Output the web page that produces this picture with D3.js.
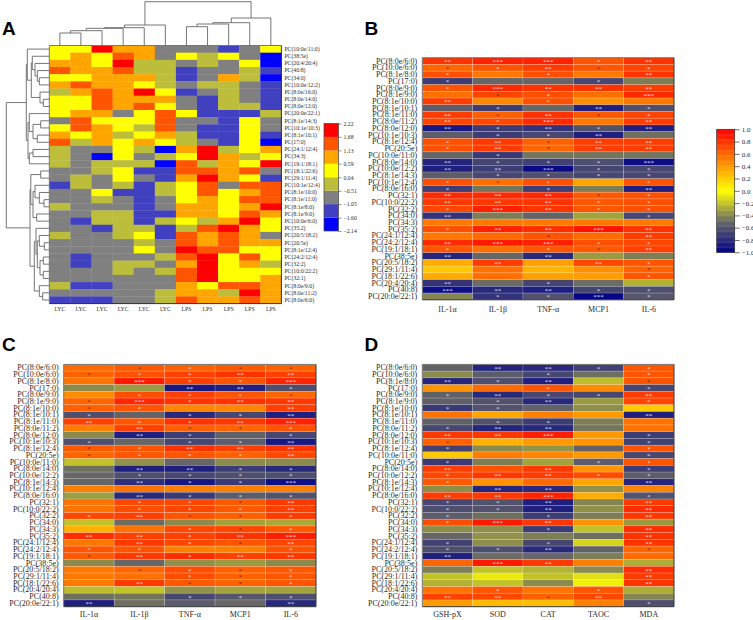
<!DOCTYPE html>
<html><head><meta charset="utf-8">
<script src="https://cdn.jsdelivr.net/npm/d3@7/dist/d3.min.js"></script>
<style>html,body{margin:0;padding:0;background:#fff}svg{display:block}</style>
</head><body><svg id="c" width="753" height="620"></svg>
<script>
const aRows=["PC(10:0e/11:0)","PC(38:5e)","PC(20:4/20:4)","PC(40:8)","PC(34:0)","PC(10:0e/12:2)","PC(8:0e/16:0)","PC(8:0e/14:0)","PC(8:0e/12:0)","PC(20:0e/22:1)","PC(8:1e/14:3)","PC(10:1e/10:3)","PC(8:1e/10:1)","PC(17:0)","PC(24:1/12:4)","PC(34:3)","PC(19:1/18:1)","PC(18:1/22:6)","PC(29:1/11:4)","PC(10:1e/12:4)","PC(8:1e/10:0)","PC(8:1e/11:0)","PC(8:1e/8:0)","PC(8:1e/9:0)","PC(10:0e/6:0)","PC(35:2)","PC(20:5/18:2)","PC(20:5e)","PC(8:1e/12:4)","PC(24:2/12:4)","PC(32:2)","PC(10:0/22:2)","PC(32:1)","PC(8:0e/9:0)","PC(8:0e/11:2)","PC(8:0e/6:0)"];
const aCols=["LYC","LYC","LYC","LYC","LYC","LYC","LPS","LPS","LPS","LPS","LPS"];
const aValues=[
[.31,.31,1.95,.86,.86,-.78,-.78,-.78,-1.33,-.78,.31],
[.31,.86,.31,1.4,.86,-.78,.31,-.24,.31,-.78,-1.87],
[.86,.86,.31,1.95,-.24,-.24,-.78,-.24,-.78,.31,-1.87],
[1.4,.86,.86,1.4,-.24,-.24,-1.33,-.78,-.78,-.24,-1.33],
[.31,.31,.86,.86,.86,-.24,-1.33,-.78,.86,-.24,-1.87],
[.86,1.4,.86,.86,.31,-.24,-.78,-.24,-.24,-.78,-1.33],
[-.24,.86,1.4,.86,1.95,.31,-1.33,-.78,-.24,-.78,-1.33],
[.31,.31,1.4,.86,.86,.86,-.78,-1.33,-.24,-.78,-1.33],
[.31,.31,1.4,.86,1.4,.31,-.78,-1.33,-.24,-.24,-1.33],
[.31,.86,.86,-.78,.31,1.4,.31,-1.33,-1.33,-1.33,-.24],
[-.78,1.4,.31,.31,.31,1.4,-.78,-.78,-1.33,.31,-.78],
[.31,1.4,.86,.31,-.24,1.4,-.78,-1.33,-1.33,.31,-.78],
[.86,.31,.86,-.24,.31,.86,-.24,-1.33,-1.33,.31,-1.33],
[1.4,-.24,.86,.31,.86,.31,-.24,-.78,-1.33,.31,-1.87],
[-.24,-.78,-.78,.31,-.24,-1.87,.86,1.95,-.24,.31,.86],
[-.24,-.78,-1.87,.31,-.78,-.24,.31,1.95,.86,-.24,.31],
[-.24,-.78,-.24,-.24,-.24,-1.87,1.4,-.24,.86,.31,1.95],
[-.78,-.78,-.24,.31,-1.33,-1.33,1.4,1.4,.86,1.4,-.78],
[-.78,-.24,-.78,.31,-.78,-1.33,.86,1.95,.86,.31,-1.33],
[-1.33,-.24,-.78,-.24,-1.33,-.24,.31,1.4,-.78,1.4,1.4],
[-.78,-.78,.31,-1.33,-1.33,-.24,.31,1.4,.31,.86,1.4],
[-.78,-.78,-.24,-.78,-1.33,-.78,.31,.86,.31,1.4,1.4],
[-.24,-.78,-.78,-.78,-1.33,-.78,.86,.86,.31,.86,1.95],
[-.78,-.78,-.24,-.24,-1.33,-1.33,.86,.86,.31,1.4,.86],
[-.78,-1.33,-.24,-.24,-1.33,-.24,.31,-.24,.86,1.95,.31],
[-.78,-.78,-1.33,-.24,-.24,-1.33,-.24,1.4,1.95,.86,.31],
[-.24,-.78,-.78,-.24,.31,-1.33,1.4,.86,1.4,.86,-.78],
[-.78,-.78,-.78,-.78,-.24,-.78,1.4,.86,1.4,.86,.86],
[-.78,-.78,-.78,-.78,.31,-.78,1.95,1.4,1.4,.31,.31],
[-.78,-1.33,-.78,-.78,-.78,-.24,1.4,1.95,.31,1.4,.31],
[-.78,-1.33,-.78,-.24,-.24,-.78,.86,1.95,.31,.86,-.24],
[-.78,-.78,-.78,-.24,-.78,-.24,1.4,1.95,.31,.31,.31],
[-.78,-.78,-.78,-.78,-.78,-.78,1.4,1.95,.31,.31,.86],
[-.24,-1.33,-1.33,-.78,-.78,-.78,.86,.31,1.4,1.4,.86],
[-.78,-.78,-.78,-.78,-.78,-.24,.86,.86,-.24,1.95,.86],
[-1.33,-1.33,-1.33,-.78,-.78,-.24,1.4,.86,.86,1.4,.86]];
const aTicks=[2.22,1.68,1.13,.59,.04,-.51,-1.05,-1.60,-2.14];
const aColors=["#0000ff","#4040c0","#808080","#bdbd3c","#ffff00","#ffa500","#ff5500","#ff0000"];
// dendrograms: [merge height, left, right]; a number is a leaf index
const colTree=[43.8,[20.5,[17.8,[17.2,[14.8,[12.5,0,1],2],3],4],5],[27.5,[22.8,[21.5,[18.8,6,7],8],9],10]];
const rowTree=[43,
 [23,[22,0,[18,[17,1,[14.3,2,[12,3,[10,4,5]]]],[9.3,6,[6,7,8]]]],
     [21.3,[20,9,[16.3,[8.6,10,11],[12,12,13]]],[20,[16.3,14,15],16]]],
 [19.3,[18.5,[8.6,17,18],[16.3,[14.3,19,[10,20,[5.3,21,22]]],[12.6,23,24]]],
     [15,[13.3,25,[12,[10,26,[5,27,28]],[9.3,[6,29,30],[6,31,32]]]],[10,33,[6.6,34,35]]]]];

const bcRows=["PC(8:0e/6:0)","PC(10:0e/6:0)","PC(8:1e/8:0)","PC(17:0)","PC(8:0e/9:0)","PC(8:1e/9:0)","PC(8:1e/10:0)","PC(8:1e/10:1)","PC(8:1e/11:0)","PC(8:0e/11:2)","PC(8:0e/12:0)","PC(10:1e/10:3)","PC(8:1e/12:4)","PC(20:5e)","PC(10:0e/11:0)","PC(8:0e/14:0)","PC(10:0e/12:2)","PC(8:1e/14:3)","PC(10:1e/12:4)","PC(8:0e/16:0)","PC(32:1)","PC(10:0/22:2)","PC(32:2)","PC(34:0)","PC(34:3)","PC(35:2)","PC(24:1/12:4)","PC(24:2/12:4)","PC(19:1/18:1)","PC(38:5e)","PC(20:5/18:2)","PC(29:1/11:4)","PC(18:1/22:6)","PC(20:4/20:4)","PC(40:8)","PC(20:0e/22:1)"];
const dRows=["PC(8:0e/6:0)","PC(10:0e/6:0)","PC(8:1e/8:0)","PC(17:0)","PC(8:0e/9:0)","PC(8:1e/9:0)","PC(8:1e/10:0)","PC(8:1e/10:1)","PC(8:1e/11:0)","PC(8:0e/11:2)","PC(8:0e/12:0)","PC(10:1e/10:3)","PC(8:1e/12:4)","PC(10:0e/11:0)","PC(20:5e)","PC(8:0e/14:0)","PC(10:0e/12:2)","PC(8:1e/14:3)","PC(10:1e/12:4)","PC(8:0e/16:0)","PC(32:1)","PC(10:0/22:2)","PC(32:2)","PC(34:0)","PC(34:3)","PC(35:2)","PC(24:1/12:4)","PC(24:2/12:4)","PC(19:1/18:1)","PC(38:5e)","PC(20:5/18:2)","PC(29:1/11:4)","PC(18:1/22:6)","PC(20:4/20:4)","PC(40:8)","PC(20:0e/22:1)"];
const cytokines=["IL-1α","IL-1β","TNF-α","MCP1","IL-6"];
const oxidative=["GSH-pX","SOD","CAT","TAOC","MDA"];
const corrTicks=[1,.8,.6,.4,.2,0,-.2,-.4,-.6,-.8,-1];
const bValues=[
[.8,.87,.87,.67,.8],[.6,.67,.76,.67,.73],[.69,.53,.69,.53,.8],[-.7,-.5,-.5,-.65,-.42],
[.67,.84,.8,.8,.76],[.56,.73,.69,.56,.84],[.76,.47,.69,.44,.53],[-.55,-.7,-.5,-.85,-.62],
[.76,.62,.8,.65,.73],[.73,.72,.84,.53,.76],[-.88,-.7,-.75,-.6,-.85],[-.55,-.7,-.65,-.85,-.47],
[.69,.78,.62,.76,.76],[.69,.76,.6,.76,.76],[-.5,-.72,-.45,-.45,-.45],[-.82,-.66,-.68,-.62,-.93],
[-.85,-.7,-.95,-.66,-.65],[-.55,-.65,-.62,-.65,-.65],[.69,.56,.69,.35,.67],[-.7,-.45,-.7,-.42,-.85],
[.83,.83,.84,.65,.69],[.78,.78,.8,.67,.69],[.72,.87,.8,.67,.69],[-.75,-.42,-.52,-.3,-.65],
[.53,.53,.53,.53,.53],[.69,.87,.81,.92,.8],[.53,.58,.67,.58,.76],[.83,.9,.87,.69,.72],
[.67,.56,.67,.65,.75],[-.82,-.5,-.8,-.33,-.42],[.32,.77,.37,.73,.67],[.22,.56,.29,.44,.62],
[.33,.56,.37,.39,.67],[-.75,-.48,-.66,-.48,-.25],[-.93,-.8,-.85,-.66,-.62],[-.4,-.75,-.6,-.97,-.58]];
const bStars=["23312","d12d1","10102","10010","13222","0d103","20100","01021","2d2d1","21302","21212","01120","12d22","12d22","01000","21113","22311","01111","1d101","10102","222d1","22211","13211","20001","00000","12232","00d02","23311","101d2","20200","02021","0000d","00001","20100","32211","01131"];
const cValues=[
[.58,.65,.62,.65,.62],[.62,.68,.75,.8,.75],[.55,.9,.75,.67,.85],[-.38,-.33,-.88,-.85,-.62],
[.45,.7,.75,.67,.6],[.6,.85,.8,.8,.78],[.62,.67,.47,.47,.75],[-.62,-.52,-.8,-.65,-.85],
[.75,.66,.8,.78,.87],[.5,.75,.62,.6,.67],[-.38,-.85,-.7,-.53,-.65],[-.62,-.5,-.65,-.55,-.88],
[.65,.67,.8,.75,.8],[.6,.67,.67,.62,.72],[-.2,-.36,-.5,-.38,-.38],[-.47,-.85,-.85,-.7,-.8],
[-.5,-.62,-.65,-.62,-.62],[-.5,-.78,-.88,-.72,-.92],[.5,.55,.5,.5,.5],[-.32,-.8,-.72,-.55,-.6],
[.55,.72,.72,.65,.78],[.55,.7,.72,.65,.75],[.72,.75,.67,.62,.77],[-.2,-.48,-.38,-.3,-.28],
[.3,.55,.72,.72,.65],[.82,.75,.75,.8,.88],[.53,.78,.72,.67,.73],[.67,.67,.5,.5,.68],
[.65,.78,.82,.75,.78],[-.38,-.5,-.36,-.33,-.38],[.53,.6,.7,.62,.65],[.53,.56,.7,.62,.66],
[.52,.78,.65,.62,.67],[-.22,-.2,-.36,-.3,-.3],[-.47,-.45,-.65,-.58,-.62],[-.85,-.47,-.55,-.5,-.8]];
const cStars=["0d1dd","d1122","03113","00221","0111d","d3122","d1002","10112","21123","02dd1","02101","10112","d1222","d1112","00000","02211","01111","02113","00000","02111","011d2","01112","12dd1","00000","001d1","22123","021d2","11001","d2122","00000","0d1d1","001d1","02dd1","00000","00111","20002"];
const dValues=[
[-.52,-.82,-.8,-.68,.67],[-.38,-.55,-.65,-.47,.67],[-.82,-.62,-.85,-.22,.67],[.42,.58,.67,.45,-.65],
[-.53,-.8,-.65,-.65,.76],[-.53,-.6,-.8,-.33,.73],[-.72,-.6,-.52,-.37,.2],[.55,.35,.5,.4,-.85],
[-.53,-.6,-.7,-.42,.55],[-.65,-.82,-.8,-.45,.55],[.78,.78,.88,.4,-.7],[.62,.3,.4,.42,-.68],
[-.68,-.38,-.35,-.52,.67],[.22,.52,.48,.4,-.65],[-.72,-.42,-.3,-.55,.67],[.76,.68,.78,.42,-.7],
[.72,.78,.77,.7,-.55],[.65,.42,.58,.35,-.82],[-.37,-.82,-.8,-.36,.48],[.77,.78,.86,.33,-.6],
[-.65,-.6,-.85,-.4,.77],[-.62,-.6,-.85,-.36,.82],[-.55,-.47,-.7,-.42,.78],[.7,.9,.78,.42,-.33],
[-.37,-.37,-.7,-.2,.82],[-.5,-.36,-.42,-.47,.8],[-.68,-.37,-.65,-.14,.8],[-.62,-.62,-.8,-.52,.6],
[-.85,-.48,-.5,-.42,.58],[.6,.9,.78,.5,-.27],[-.42,-.2,-.25,-.38,.82],[-.2,-.07,-.2,-.1,.77],
[-.25,-.2,-.38,-.05,.8],[.55,.67,.55,.67,-.27],[.75,.72,.62,.72,-.4],[.4,.27,.25,.5,-.62]];
const dStars=["02211","00101","2120d","00101","12112","01201","11000","00002","01100","12200","22301","d0001","10001","00001","10011","20201","12211","10002","02200","22301","11202","11202","10102","13200","00102","00002","10102","1120d","20000","03200","00002","00002","00002","01010","22d20","00001"];

const panels=[
 {letter:"B",rows:bcRows,cols:cytokines,vals:bValues,stars:bStars,x:[422.3,674],y:[57.7,299.8],pad:7},
 {letter:"C",rows:bcRows,cols:cytokines,vals:cValues,stars:cStars,x:[63.7,316],y:[364.4,606.7],pad:5},
 {letter:"D",rows:dRows,cols:oxidative,vals:dValues,stars:dStars,x:[422.3,674],y:[364.4,606.7],pad:5}];

const svg=d3.select("#c");
const serif="'Liberation Serif','Times New Roman',serif";
const letter=(t,x,y)=>svg.append("text").text(t).attr("x",x).attr("y",y).attr("font-family","'Liberation Sans',Arial,sans-serif").attr("font-weight","bold").attr("font-size",19).attr("fill","#000");
letter("A",2,35);letter("B",364.5,35);letter("C",2,351);letter("D",364.5,351);

function styleAxis(g,size){
  g.select(".domain").remove();
  g.selectAll("text").attr("font-family",serif).attr("font-size",size).attr("fill","#2a2a2a");
}
function frame(x0,x1,y0,y1){
  svg.append("path").attr("d",`M${x0},${y1}V${y0}H${x1}`).attr("fill","none").attr("stroke","#777").attr("stroke-width",1);
  svg.append("path").attr("d",`M${x1},${y0}V${y1}H${x0}`).attr("fill","none").attr("stroke","#333").attr("stroke-width",1);
}
/* ---------- A ---------- */
const ax=d3.scaleBand().domain(d3.range(aCols.length)).range([49.3,281.4]);
const ay=d3.scaleBand().domain(aRows).range([45.5,303.6]);
const aCol=d3.scaleQuantize().domain([-2.14,2.22]).range(aColors);
const ga=svg.append("g");
aValues.forEach((row,r)=>row.forEach((v,c)=>{
  ga.append("rect").attr("x",ax(c)).attr("y",ay(aRows[r])).attr("width",ax.bandwidth()+.3).attr("height",ay.bandwidth()+.3).attr("fill",aCol(v));
}));
frame(49.3,281.4,45.5,303.6);
svg.append("g").attr("transform","translate(281.4,0)").call(d3.axisRight(ay).tickSize(0).tickPadding(3)).call(styleAxis,5.75);
svg.append("g").attr("transform","translate(0,303.6)").call(d3.axisBottom(ax).tickSize(0).tickPadding(3.5).tickFormat(i=>aCols[i])).call(styleAxis,5.75);

const topH=d3.scaleLinear().domain([0,43.8]).range([45.5,1.7]);
const leftH=d3.scaleLinear().domain([0,43]).range([49.3,6.3]);
function dendro(tree,leafPos,hScale,vertical){
  const g=svg.append("g").attr("fill","none").attr("stroke","#666").attr("stroke-width",.9);
  const walk=n=>{
    if(typeof n==="number") return {p:leafPos(n),h:0};
    const a=walk(n[1]),b=walk(n[2]),h=n[0],p=(a.p+b.p)/2;
    const path=d3.path();
    if(vertical){
      path.moveTo(a.p,hScale(a.h));path.lineTo(a.p,hScale(h));path.lineTo(b.p,hScale(h));path.lineTo(b.p,hScale(b.h));
    }else{
      path.moveTo(hScale(a.h),a.p);path.lineTo(hScale(h),a.p);path.lineTo(hScale(h),b.p);path.lineTo(hScale(b.h),b.p);
    }
    g.append("path").attr("d",path.toString());
    return {p,h};
  };
  walk(tree);
}
dendro(colTree,i=>ax(i)+ax.bandwidth()/2,topH,true);
dendro(rowTree,i=>ay(aRows[i])+ay.bandwidth()/2,leftH,false);

const aLeg=d3.scaleLinear().domain([-2.14,2.22]).range([231,123.5]);
aColors.forEach(col=>{
  const lo=aCol.invertExtent(col);
  svg.append("rect").attr("x",324).attr("width",14.5).attr("y",aLeg(lo[1])).attr("height",aLeg(lo[0])-aLeg(lo[1])).attr("fill",col);
});
svg.append("rect").attr("x",324).attr("y",123.5).attr("width",14.5).attr("height",107.5).attr("fill","none").attr("stroke","#444").attr("stroke-width",.7);
svg.append("g").attr("transform","translate(338.5,0)")
  .call(d3.axisRight(aLeg).tickValues(aTicks).tickSize(3).tickPadding(2).tickFormat(d3.format(".2f")))
  .call(styleAxis,5.75).call(g=>g.selectAll("line").attr("stroke","#444").attr("stroke-width",.6));

/* ---------- B, C, D ---------- */
const corr=d3.scaleLinear().domain([-1,-.5,0,1]).range(["#00008b","#666666","#ffff00","#ff0000"]);
panels.forEach(p=>{
  const x=d3.scaleBand().domain(p.cols).range(p.x);
  const y=d3.scaleBand().domain(p.rows).range(p.y);
  const g=svg.append("g");
  p.vals.forEach((row,r)=>row.forEach((v,c)=>{
    const X=x(p.cols[c]),Y=y(p.rows[r]);
    g.append("rect").attr("x",X).attr("y",Y).attr("width",x.bandwidth()).attr("height",y.bandwidth())
      .attr("fill",corr(v)).attr("stroke","#fff").attr("stroke-opacity",.28).attr("stroke-width",.6);
    const s=p.stars[r][c];
    if(s!=="0"){
      g.append("text").text(s==="d"?"*":"*".repeat(+s))
        .attr("x",X+x.bandwidth()/2).attr("y",Y+y.bandwidth()/2+2.9).attr("text-anchor","middle")
        .attr("font-family",serif).attr("font-size",7)
        .attr("fill",s==="d"?"#6b3000":"#dcdce6");
    }
  }));
  frame(p.x[0],p.x[1],p.y[0],p.y[1]);
  svg.append("g").attr("transform",`translate(${p.x[0]},0)`).call(d3.axisLeft(y).tickSize(0).tickPadding(5)).call(styleAxis,8);
  svg.append("g").attr("transform",`translate(0,${p.y[1]})`).call(d3.axisBottom(x).tickSize(0).tickPadding(p.pad)).call(styleAxis,8);
});
const leg=d3.scaleLinear().domain([-1,1]).range([252.3,129.3]);
svg.append("g").selectAll("rect").data(d3.range(-1,1,.02)).join("rect")
  .attr("x",716.7).attr("width",18).attr("y",d=>leg(d+.02)).attr("height",leg(-1)-leg(-.98)+.4).attr("fill",d=>corr(d+.01));
svg.append("rect").attr("x",716.7).attr("y",129.3).attr("width",18).attr("height",123).attr("fill","none").attr("stroke","#333").attr("stroke-width",.7);
svg.append("g").attr("transform","translate(734.7,0)")
  .call(d3.axisRight(leg).tickValues(corrTicks).tickSize(5).tickPadding(2).tickFormat(d3.format(".1f")))
  .call(styleAxis,7).call(g=>g.selectAll("line").attr("stroke","#333").attr("stroke-width",.7));
</script></body></html>
